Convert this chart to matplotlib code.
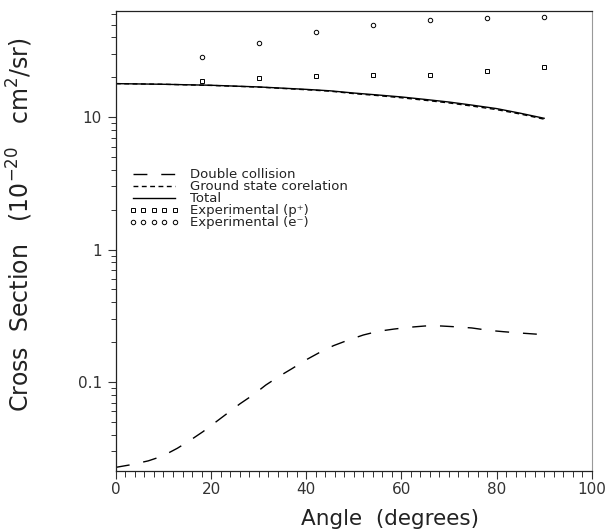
import numpy as np
import matplotlib
matplotlib.use("Agg")
import matplotlib.pyplot as plt
from matplotlib.ticker import FixedLocator, MultipleLocator, NullFormatter

# --- data ---
ang_exp = [18, 30, 42, 54, 66, 78, 90]
exp_p = [18.9, 19.6, 20.5, 20.7, 20.7, 22.3, 23.8]   # squares (p+)
exp_e = [28.4, 36.0, 43.9, 49.4, 53.7, 56.5, 57.1]   # circles (e-)

ang_tot = [0, 10, 20, 30, 40, 45, 50, 55, 60, 65, 70, 75, 80, 85, 90]
total = [17.9, 17.7, 17.4, 16.9, 16.2, 15.8, 15.2, 14.7, 14.2, 13.6, 13.0, 12.3, 11.6, 10.7, 9.8]
ground = [17.9, 17.7, 17.35, 16.85, 16.1, 15.7, 15.05, 14.55, 14.0, 13.4, 12.8, 12.1, 11.4, 10.55, 9.65]

ang_dc = [0, 3.3, 6.8, 9.8, 12.9, 15.4, 18.3, 20.8, 23.6, 26.1, 29, 31.5, 34.3, 37.1,
          39.9, 42.7, 45.7, 48.7, 52, 55.1, 58.4, 61.6, 65, 68.3, 71.6, 74.8, 78.4,
          81.4, 85, 88.3, 90]
double = [0.0227, 0.0238, 0.0254, 0.0276, 0.0316, 0.0359, 0.0422, 0.0493, 0.0587,
          0.0686, 0.0807, 0.0949, 0.1104, 0.1268, 0.1466, 0.1664, 0.188, 0.2065,
          0.2265, 0.2415, 0.251, 0.259, 0.265, 0.265, 0.261, 0.256, 0.2455, 0.240,
          0.2344, 0.230, 0.229]

ytick_vals = [0.1, 1, 10]
ytick_labels = ["0.1", "1", "10"]

fig = plt.figure(figsize=(6.1, 5.31), dpi=100)
ax = fig.add_axes([0.190, 0.113, 0.780, 0.866])

ax.plot(ang_dc, double, color="k", lw=1.0, dashes=(10, 10), label="Double collision")
ax.plot(ang_tot, ground, color="k", lw=1.0, dashes=(3.5, 2.5), label="Ground state corelation")
ax.plot(ang_tot, total, color="k", lw=1.0, label="Total")
ax.plot(ang_exp, exp_p, ls="none", marker="s", ms=2.6, mfc="none", mec="k", mew=0.7,
        label="Experimental (p\u207a)")
ax.plot(ang_exp, exp_e, ls="none", marker="o", ms=3.2, mfc="none", mec="k", mew=0.7,
        label="Experimental (e\u207b)")

ax.set_yscale("log")
ax.set_xlim(0, 100)
ax.set_ylim(0.0213, 63.1)

ax.xaxis.set_major_locator(MultipleLocator(20))
ax.xaxis.set_minor_locator(MultipleLocator(2))
ax.yaxis.set_major_locator(FixedLocator(ytick_vals))
ax.set_yticklabels(ytick_labels)
ax.yaxis.set_minor_formatter(NullFormatter())

ax.tick_params(axis="both", which="both", direction="out", top=False, right=False,
               colors="#333333", labelsize=11)
ax.tick_params(axis="x", which="major", length=6, width=0.8, pad=2)
ax.tick_params(axis="x", which="minor", length=4, width=0.7)
ax.tick_params(axis="y", which="major", length=6, width=0.8, pad=4)
ax.tick_params(axis="y", which="minor", length=3.5, width=0.7)

for s in ["left", "bottom", "top"]:
    ax.spines[s].set_color("#222222")
    ax.spines[s].set_linewidth(0.9)
ax.spines["right"].set_color("#999999")
ax.spines["right"].set_linewidth(0.8)

ax.set_xlabel("Angle  (degrees)", fontsize=15.5, color="#222222")
ax.xaxis.set_label_coords(0.576, -0.083)
ax.set_ylabel("Cross  Section   (10$^{-20}$   cm$^{2}$/sr)", fontsize=17, color="#222222")
ax.yaxis.set_label_coords(-0.17, 0.535)

leg = ax.legend(loc="upper left", bbox_to_anchor=(0.027, 0.658), frameon=False,
                fontsize=9.5, handlelength=3.8, handletextpad=0.85, labelspacing=-0.08,
                handleheight=0.5, numpoints=5, borderaxespad=0.0, borderpad=0.0)
for t in leg.get_texts():
    t.set_color("#222222")

fig.savefig("out.png", dpi=100)
